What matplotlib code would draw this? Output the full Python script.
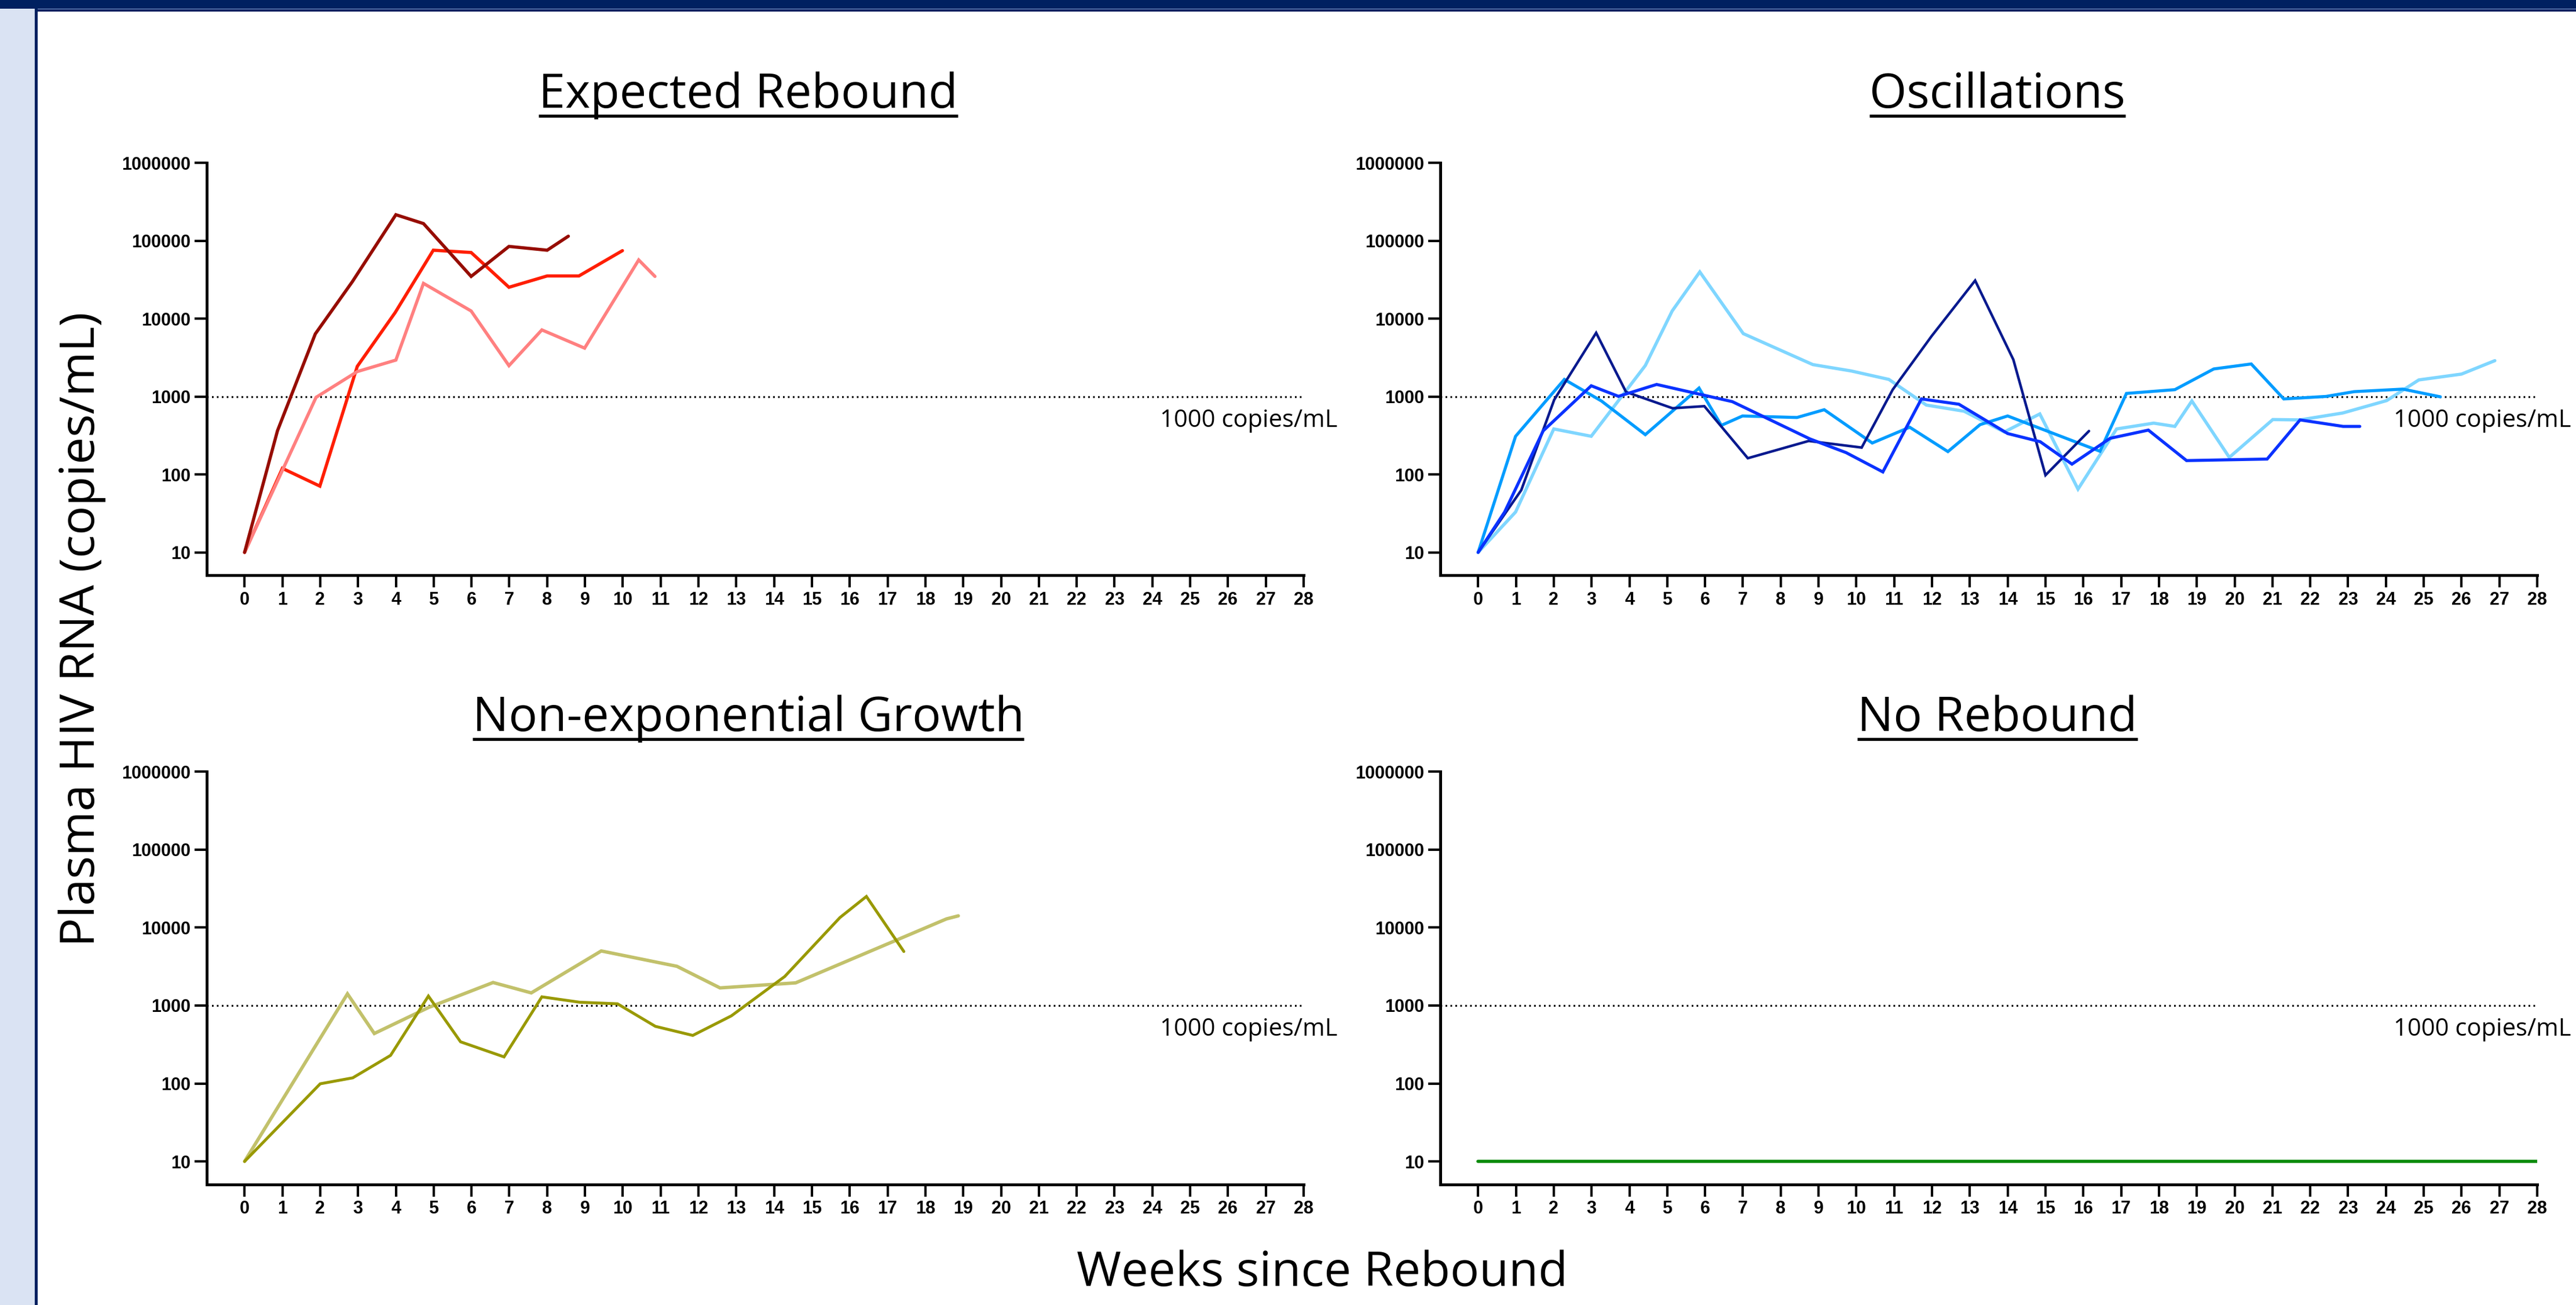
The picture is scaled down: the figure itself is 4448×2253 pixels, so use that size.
import matplotlib
matplotlib.use("Agg")
import matplotlib.pyplot as plt
from matplotlib.patches import Rectangle
from matplotlib.lines import Line2D
from matplotlib.ticker import FixedLocator, FixedFormatter, NullLocator

# ---------------- data (weeks since rebound, plasma HIV RNA copies/mL) ----------------
# Expected Rebound
er_dark_weeks = [0, 0.87, 1.87, 2.85, 4.0, 4.73, 5.99, 6.99, 8.0, 8.56]
er_dark_vl = [10, 365, 6400, 30000, 217000, 167000, 35000, 85000, 76000, 115000]
er_red_weeks = [0, 1.0, 1.99, 2.98, 3.98, 4.99, 5.99, 6.99, 8.0, 8.84, 9.99]
er_red_vl = [10, 120, 71, 2450, 12000, 76000, 71000, 25400, 35500, 35500, 75000]
er_pink_weeks = [0, 1.89, 2.98, 4.0, 4.73, 5.99, 6.99, 7.86, 8.99, 10.42, 10.85]
er_pink_vl = [10, 980, 2100, 2950, 28500, 12600, 2500, 7200, 4200, 57000, 35000]

# Oscillations
os_navy_weeks = [0, 1.14, 2.01, 3.12, 3.91, 5.14, 5.98, 7.13, 8.74, 10.14, 10.96,
                 11.99, 13.14, 14.15, 15.0, 16.15]
os_navy_vl = [10, 63, 910, 6600, 1150, 710, 755, 162, 270, 222, 1230,
              6000, 31000, 2990, 98, 362]
os_blue_weeks = [0, 0.70, 1.72, 2.99, 3.71, 4.72, 6.72, 8.77, 9.73, 10.7, 11.72,
                 12.71, 14.0, 14.86, 15.7, 16.71, 17.72, 18.73, 20.86, 21.73, 22.87, 23.31]
os_blue_vl = [10, 33, 364, 1380, 1010, 1435, 863, 287, 191, 108, 935,
              800, 336, 264, 136, 292, 372, 151, 158, 503, 415, 415]
os_mid_weeks = [0, 0.99, 2.28, 3.26, 4.42, 5.84, 6.43, 6.99, 8.43, 9.15, 10.42,
                11.41, 12.42, 13.27, 14.0, 16.44, 17.14, 18.42, 19.45, 20.44, 21.3,
                22.42, 23.16, 24.45, 25.44]
os_mid_vl = [10, 310, 1665, 880, 325, 1290, 428, 565, 540, 680, 254,
             405, 197, 437, 565, 199, 1100, 1230, 2270, 2630, 935,
             1007, 1160, 1250, 995]
os_light_weeks = [0, 0.99, 2.0, 2.99, 4.42, 5.13, 5.86, 7.01, 8.85, 9.86, 10.86,
                  11.85, 12.85, 13.91, 14.85, 15.86, 16.88, 17.86, 18.42, 18.87,
                  19.86, 21.01, 21.73, 22.86, 24.02, 24.87, 26.0, 26.88]
os_light_vl = [10, 33, 385, 310, 2510, 12600, 40000, 6450, 2580, 2140, 1665,
               780, 650, 352, 600, 65, 385, 457, 415, 880,
               166, 508, 503, 617, 890, 1640, 1950, 2900]

# Non-exponential Growth
ng_dark_weeks = [0, 2.0, 2.86, 3.86, 4.86, 5.71, 6.86, 7.86, 8.86, 9.86, 10.86,
                 11.85, 12.87, 14.28, 15.74, 16.44, 17.43]
ng_dark_vl = [10, 99, 118, 229, 1320, 342, 219, 1290, 1100, 1050, 540,
              413, 736, 2350, 13400, 25000, 4920]
ng_light_weeks = [0, 2.72, 3.43, 4.86, 6.57, 7.58, 9.43, 11.43, 12.57, 14.57, 18.56, 18.87]
ng_light_vl = [10, 1410, 437, 940, 1970, 1450, 5000, 3180, 1680, 1950, 12900, 14100]

# No Rebound
nr_weeks = [0, 28]
nr_vl = [10, 10]

threshold = 1000
threshold_label = "1000 copies/mL"
y_ticks = [10, 100, 1000, 10000, 100000, 1000000]
y_tick_labels = ["10", "100", "1000", "10000", "100000", "1000000"]
x_ticks = list(range(0, 29))
x_tick_labels = [str(w) for w in x_ticks]

panel_titles = ["Expected Rebound", "Oscillations", "Non-exponential Growth", "No Rebound"]
y_label = "Plasma HIV RNA (copies/mL)"
x_label = "Weeks since Rebound"

# ---------------- figure ----------------
W, H = 4448, 2253
fig = plt.figure(figsize=(W / 100, H / 100), dpi=100)
fig.patch.set_facecolor("white")

TEXT_FONT = ["Open Sans", "DejaVu Sans"]
TICK_FONT = ["Liberation Sans Narrow", "Liberation Sans", "DejaVu Sans"]


def fx(x):
    return x / W


def fy(y):
    return 1 - y / H


def frame_rect(x0, y0, x1, y1, color):
    fig.add_artist(Rectangle((fx(x0), fy(y1)), fx(x1) - fx(x0), fy(y0) - fy(y1),
                             transform=fig.transFigure, facecolor=color,
                             edgecolor="none", zorder=0))


# slide frame: side strip, border line and top banner
frame_rect(0, 0, 60, H, "#DAE3F3")
frame_rect(60, 0, 65, H, "#002060")
frame_rect(0, 0, W, 15, "#002060")
frame_rect(65, 15, W, 16.5, "#8EA9DB")
frame_rect(65, 16.5, W, 20, "#002060")

AX_W = 1894


def make_axes(left, top, bottom):
    ax = fig.add_axes([fx(left), fy(bottom), AX_W / W, (bottom - top) / H])
    ax.set_yscale("log")
    ax.set_xlim(-1, 28)
    ax.set_ylim(5.1, 1e6)
    for side in ("top", "right"):
        ax.spines[side].set_visible(False)
    for side in ("left", "bottom"):
        ax.spines[side].set_linewidth(3.6)
    ax.yaxis.set_major_locator(FixedLocator(y_ticks))
    ax.yaxis.set_major_formatter(FixedFormatter(y_tick_labels))
    ax.yaxis.set_minor_locator(NullLocator())
    ax.xaxis.set_major_locator(FixedLocator(x_ticks))
    ax.xaxis.set_major_formatter(FixedFormatter(x_tick_labels))
    ax.tick_params(axis="both", direction="out", length=15, width=3.0, pad=5)
    for lab in ax.get_xticklabels() + ax.get_yticklabels():
        lab.set_fontfamily(TICK_FONT)
        lab.set_fontweight("bold")
        lab.set_fontsize(22)
    ax.plot([-1, 28], [threshold, threshold], color="black", lw=2.4,
            linestyle=(0, (0.85, 1.7)), zorder=1, clip_on=False)
    ax.text(24.2, 495, threshold_label, fontsize=30, family=TEXT_FONT,
            ha="left", va="center", clip_on=False)
    return ax


ax1 = make_axes(357, 281.5, 993)
ax2 = make_axes(2487, 281.5, 993)
ax3 = make_axes(357, 1332, 2044.5)
ax4 = make_axes(2487, 1332, 2044.5)

line_kw = dict(solid_joinstyle="miter", solid_capstyle="round", zorder=3)

ax1.plot(er_red_weeks, er_red_vl, color="#FF1E00", lw=4.0, **line_kw)
ax1.plot(er_pink_weeks, er_pink_vl, color="#FF8080", lw=4.0, **line_kw)
ax1.plot(er_dark_weeks, er_dark_vl, color="#960C00", lw=4.0, **line_kw)

ax2.plot(os_light_weeks, os_light_vl, color="#7FD6FF", lw=4.0, **line_kw)
ax2.plot(os_mid_weeks, os_mid_vl, color="#009CFF", lw=3.8, **line_kw)
ax2.plot(os_navy_weeks, os_navy_vl, color="#06198E", lw=3.2, **line_kw)
ax2.plot(os_blue_weeks, os_blue_vl, color="#0A32FF", lw=3.8, **line_kw)

ax3.plot(ng_light_weeks, ng_light_vl, color="#C2C16B", lw=4.2, **line_kw)
ax3.plot(ng_dark_weeks, ng_dark_vl, color="#999900", lw=3.6, **line_kw)

ax4.plot(nr_weeks, nr_vl, color="#0A8A0A", lw=4.0, **line_kw)

# panel titles with underline
title_pos = [(1292, 186), (3449, 186), (1292, 1262), (3449, 1262)]
titles = []
for text, (x, y) in zip(panel_titles, title_pos):
    titles.append(fig.text(fx(x), fy(y), text, fontsize=59.5, family=TEXT_FONT,
                           ha="center", va="baseline"))

fig.text(fx(142), fy(1086), y_label, fontsize=60, family=TEXT_FONT,
         rotation=90, ha="center", va="center")
fig.text(fx(2283), fy(2199), x_label, fontsize=60, family=TEXT_FONT,
         ha="center", va="center")

fig.canvas.draw()
renderer = fig.canvas.get_renderer()
for t, (x, y) in zip(titles, title_pos):
    bb = t.get_window_extent(renderer)
    uy = fy(y + 14)
    fig.add_artist(Line2D([bb.x0 / W, bb.x1 / W], [uy, uy], transform=fig.transFigure,
                          color="black", lw=3.8, solid_capstyle="butt"))

fig.savefig("out.png", dpi=100)
